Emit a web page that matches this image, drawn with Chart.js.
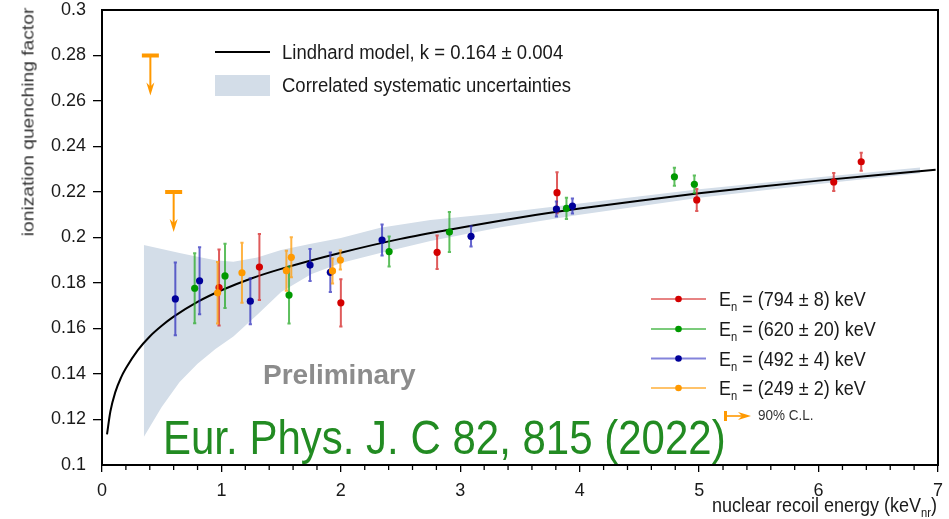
<!DOCTYPE html>
<html>
<head>
<meta charset="utf-8">
<script src="https://cdn.jsdelivr.net/npm/chart.js@4.4.0/dist/chart.umd.min.js"></script>
<style>
  html, body { margin: 0; padding: 0; background: #fff; }
  #wrap { position: relative; width: 949px; height: 519px; overflow: hidden;
          font-family: "Liberation Sans", Arial, sans-serif; color: #1a1a1a; }
  #c { position: absolute; left: 0; top: 0; }
  .t { position: absolute; white-space: nowrap; line-height: 1; transform-origin: left center; }
  .t sub { font-size: 0.62em; vertical-align: -0.4em; line-height: 0; }
</style>
</head>
<body>
<div id="wrap">
  <canvas id="c" width="949" height="519"></canvas>

  <div class="t" style="left:282px; top:42.5px; font-size:18.5px; transform:scaleY(1.12);">Lindhard model, k = 0.164 ± 0.004</div>
  <div class="t" style="left:282px; top:75.5px; font-size:18.5px; transform:scaleY(1.12);">Correlated systematic uncertainties</div>

  <div class="t" style="left:719px; top:290px; font-size:18px; transform:scaleY(1.12);">E<sub>n</sub> = (794 ± 8) keV</div>
  <div class="t" style="left:719px; top:320px; font-size:18px; transform:scaleY(1.12);">E<sub>n</sub> = (620 ± 20) keV</div>
  <div class="t" style="left:719px; top:349.5px; font-size:18px; transform:scaleY(1.12);">E<sub>n</sub> = (492 ± 4) keV</div>
  <div class="t" style="left:719px; top:379px; font-size:18px; transform:scaleY(1.12);">E<sub>n</sub> = (249 ± 2) keV</div>
  <div class="t" style="left:758px; top:409px; font-size:13.5px; color:#333; transform:scaleY(1.1);">90% C.L.</div>

  <div class="t" style="left:263px; top:361px; font-size:28px; font-weight:bold; color:#8c8c8c;">Preliminary</div>
  <div class="t" style="left:163px; top:416.5px; font-size:42px; color:#228b22; transform:scaleY(1.14);">Eur. Phys. J. C 82, 815 (2022)</div>

  <div class="t" style="right:12px; top:496px; font-size:18px; transform-origin:right center; transform:scaleY(1.12);">nuclear recoil energy (keV<sub>nr</sub>)</div>
  <div class="t" style="left:28px; top:122px; font-size:17px; font-weight:normal; color:#333; transform-origin:center center; transform:translate(-50%,-50%) rotate(-90deg) scaleX(1.13);">ionization quenching factor</div>
</div>

<script>
// Lindhard model curve (energy in keVnr, quenching factor)
const lindhardE  = [0.042, 0.07, 0.11, 0.16, 0.2, 0.3, 0.4, 0.5, 0.6, 0.8, 1.0, 1.25, 1.5, 2.0, 2.5, 3.0, 3.5, 4.0, 4.5, 5.0, 5.5, 6.0, 6.5, 6.98];
const lindhardQF = [0.1135, 0.1235, 0.1318, 0.1385, 0.1425, 0.1505, 0.1565, 0.1612, 0.1652, 0.1717, 0.1768, 0.1820, 0.1862, 0.1933, 0.1994, 0.2043, 0.2088, 0.2127, 0.2162, 0.2194, 0.2223, 0.2250, 0.2275, 0.2298];

// Correlated systematic uncertainty band
const bandE    = [0.35, 0.5, 0.65, 0.8, 0.95, 1.1, 1.3, 1.5, 1.75, 2.0, 2.33, 2.75, 3.34, 4.0, 5.0, 6.0, 6.85];
const bandHigh = [0.1967, 0.1950, 0.1932, 0.1915, 0.1900, 0.1893, 0.1912, 0.1945, 0.1972, 0.1998, 0.2043, 0.2077, 0.2108, 0.2150, 0.2212, 0.2265, 0.2308];
const bandLow  = [0.1123, 0.1255, 0.1365, 0.1445, 0.1510, 0.1565, 0.1660, 0.1760, 0.1838, 0.1888, 0.1932, 0.1985, 0.2045, 0.2100, 0.2175, 0.2235, 0.2282];

// Measurements, En = 794 keV
const energy794 = [0.98, 1.318, 2.0, 2.806, 3.81, 4.98, 6.127, 6.357];
const qf794     = [0.178, 0.187, 0.1713, 0.1935, 0.2197, 0.2165, 0.2244, 0.2333];
const err794    = [0.0167, 0.0145, 0.0104, 0.0074, 0.009, 0.0048, 0.004, 0.004];

// En = 620 keV
const energy620 = [0.776, 1.03, 1.566, 2.404, 2.909, 3.889, 4.793, 4.96];
const qf620     = [0.1777, 0.1831, 0.1747, 0.1938, 0.2024, 0.2128, 0.2267, 0.2234];
const err620    = [0.0154, 0.0141, 0.0125, 0.0066, 0.0088, 0.0047, 0.004, 0.0038];

// En = 492 keV
const energy492 = [0.614, 0.817, 1.242, 1.742, 1.912, 2.345, 3.09, 3.805, 3.939];
const qf492     = [0.173, 0.181, 0.172, 0.1879, 0.1847, 0.1989, 0.2005, 0.2125, 0.2138];
const err492    = [0.016, 0.0147, 0.0101, 0.007, 0.0087, 0.0068, 0.0045, 0.0033, 0.0033];

// En = 249 keV
const energy249 = [0.968, 1.172, 1.544, 1.585, 1.93, 1.996];
const qf249     = [0.1757, 0.1845, 0.1854, 0.1913, 0.1853, 0.1901];
const err249    = [0.0135, 0.0132, 0.0088, 0.0088, 0.0055, 0.0042];

// 90% C.L. upper limits (En = 249 keV)
const limitE  = [0.405, 0.6];
const limitQF = [0.28, 0.22];

// Axis ticks
const xTicks = [0, 1, 2, 3, 4, 5, 6, 7];
const yTicks = [0.1, 0.12, 0.14, 0.16, 0.18, 0.2, 0.22, 0.24, 0.26, 0.28, 0.3];

const pts = (xs, ys) => xs.map((x, i) => ({ x, y: ys[i] }));

const BAND = '#d3dde8';
const ORANGE = '#ff9900';
const series = [
  { e: energy794, q: qf794, err: err794, dot: '#d40000', bar: 'rgba(215,50,50,0.8)',  legend: 'rgba(225,100,100,0.8)' },
  { e: energy620, q: qf620, err: err620, dot: '#009900', bar: 'rgba(40,170,40,0.75)', legend: 'rgba(90,190,90,0.8)' },
  { e: energy492, q: qf492, err: err492, dot: '#000099', bar: 'rgba(50,50,190,0.75)', legend: 'rgba(100,100,210,0.8)' },
  { e: energy249, q: qf249, err: err249, dot: ORANGE,   bar: 'rgba(255,160,20,0.8)', legend: 'rgba(255,185,80,0.85)' }
];

// Vertical error bars drawn just beneath each measurement set
const errorBars = {
  id: 'errorBars',
  beforeDatasetDraw(chart, args) {
    const ds = chart.data.datasets[args.index];
    if (!ds.errors) return;
    const ys = chart.scales.y, ctx = chart.ctx;
    ctx.save();
    ctx.strokeStyle = ds.barColor;
    ctx.lineWidth = 2;
    args.meta.data.forEach((pt, i) => {
      const v = ds.data[i].y, e = ds.errors[i];
      const top = ys.getPixelForValue(v + e), bot = ys.getPixelForValue(v - e);
      ctx.beginPath();
      ctx.moveTo(pt.x, top); ctx.lineTo(pt.x, bot);
      ctx.moveTo(pt.x - 1.6, top); ctx.lineTo(pt.x + 1.6, top);
      ctx.moveTo(pt.x - 1.6, bot); ctx.lineTo(pt.x + 1.6, bot);
      ctx.stroke();
    });
    ctx.restore();
  }
};

function arrowHead(ctx, x, y, dir) {
  // dir: 'down' or 'right'
  ctx.beginPath();
  if (dir === 'down') {
    ctx.moveTo(x, y); ctx.lineTo(x - 4, y - 13); ctx.lineTo(x, y - 9); ctx.lineTo(x + 4, y - 13);
  } else {
    ctx.moveTo(x, y); ctx.lineTo(x - 13, y - 4); ctx.lineTo(x - 9, y); ctx.lineTo(x - 13, y + 4);
  }
  ctx.closePath();
  ctx.fill();
}

// Upper limits, frame, minor ticks and legend keys
const decorations = {
  id: 'decorations',
  afterDatasetsDraw(chart) {
    const { ctx, scales: { x, y } } = chart;
    ctx.save();
    ctx.fillStyle = ORANGE; ctx.strokeStyle = ORANGE;
    limitE.forEach((e, i) => {
      const px = x.getPixelForValue(e), py = y.getPixelForValue(limitQF[i]);
      ctx.fillRect(px - 8.5, py - 2, 17, 4);
      ctx.lineWidth = 2;
      ctx.beginPath(); ctx.moveTo(px, py); ctx.lineTo(px, py + 32); ctx.stroke();
      arrowHead(ctx, px, py + 40, 'down');
    });
    ctx.restore();
  },
  afterDraw(chart) {
    const { ctx, chartArea: a, scales: { x } } = chart;
    ctx.save();
    // minor ticks on the energy axis
    ctx.strokeStyle = '#000'; ctx.lineWidth = 1.3;
    for (let k = 1; k < 35; k++) {
      if (k % 5 === 0) continue;
      const px = x.getPixelForValue(k * 0.2);
      ctx.beginPath(); ctx.moveTo(px, a.bottom); ctx.lineTo(px, a.bottom + 5); ctx.stroke();
    }
    // frame
    ctx.lineWidth = 2;
    ctx.strokeRect(a.left, a.top, a.right - a.left, a.bottom - a.top);

    // model legend keys
    ctx.strokeStyle = '#000'; ctx.lineWidth = 2;
    ctx.beginPath(); ctx.moveTo(215, 52); ctx.lineTo(270, 52); ctx.stroke();
    ctx.fillStyle = BAND; ctx.fillRect(215, 75, 55, 21);

    // measurement legend keys
    const rows = [299, 329, 358.5, 388];
    series.forEach((s, i) => {
      ctx.strokeStyle = s.legend; ctx.lineWidth = 2;
      ctx.beginPath(); ctx.moveTo(651, rows[i]); ctx.lineTo(706, rows[i]); ctx.stroke();
      ctx.fillStyle = s.dot;
      ctx.beginPath(); ctx.arc(678.5, rows[i], 3.3, 0, Math.PI * 2); ctx.fill();
    });

    // upper-limit legend key
    ctx.fillStyle = ORANGE; ctx.strokeStyle = ORANGE;
    ctx.fillRect(724, 411, 3, 10);
    ctx.lineWidth = 1.6;
    ctx.beginPath(); ctx.moveTo(726, 416); ctx.lineTo(745, 416); ctx.stroke();
    arrowHead(ctx, 751, 416, 'right');
    ctx.restore();
  }
};

const datasets = [
  { data: pts(bandE, bandHigh), showLine: true, pointRadius: 0, borderWidth: 0,
    borderColor: 'rgba(0,0,0,0)', fill: false, order: 20 },
  { data: pts(bandE, bandLow), showLine: true, pointRadius: 0, borderWidth: 0,
    borderColor: 'rgba(0,0,0,0)', backgroundColor: BAND, fill: '-1', order: 20 },
  { data: pts(lindhardE, lindhardQF), showLine: true, pointRadius: 0, borderWidth: 2,
    borderColor: '#000', cubicInterpolationMode: 'monotone', fill: false, order: 10 }
];
series.forEach((s, i) => datasets.push({
  data: pts(s.e, s.q), errors: s.err, barColor: s.bar,
  showLine: false, pointRadius: 3.6, pointBorderWidth: 0,
  pointBackgroundColor: s.dot, backgroundColor: s.dot, order: 4 - i
}));

const tickFont = { family: '"Liberation Sans", Arial, sans-serif', size: 18 };
const edge = v => Math.abs(v - 0.1) < 1e-6 || Math.abs(v - 0.3) < 1e-6;

new Chart(document.getElementById('c'), {
  type: 'scatter',
  data: { datasets },
  options: {
    responsive: false,
    animation: false,
    layout: { padding: { top: 10, right: 11, left: 0, bottom: 0 } },
    plugins: { legend: { display: false }, tooltip: { enabled: false } },
    scales: {
      x: {
        type: 'linear', min: 0, max: 7,
        afterFit(s) { s.height = 54; s.paddingLeft = 0; s.paddingRight = 0; },
        afterBuildTicks(s) { s.ticks = xTicks.map(v => ({ value: v })); },
        ticks: { color: '#1a1a1a', font: tickFont, padding: 8, maxRotation: 0,
                 callback: v => String(v) },
        grid: { drawOnChartArea: false, color: '#000', tickLength: 7, lineWidth: 1.3 },
        border: { color: '#000', width: 2 }
      },
      y: {
        type: 'linear', min: 0.1, max: 0.3,
        afterFit(s) { s.width = 102; s.paddingTop = 0; s.paddingBottom = 0; },
        afterBuildTicks(s) { s.ticks = yTicks.map(v => ({ value: v })); },
        ticks: { color: '#1a1a1a', font: tickFont, padding: 7,
                 callback: v => String(+v.toFixed(2)) },
        grid: { drawOnChartArea: false, tickLength: 9, lineWidth: 1.3,
                color: c => (c.tick && edge(c.tick.value)) ? 'rgba(0,0,0,0)' : '#000' },
        border: { color: '#000', width: 2 }
      }
    }
  },
  plugins: [errorBars, decorations]
});
</script>
</body>
</html>
